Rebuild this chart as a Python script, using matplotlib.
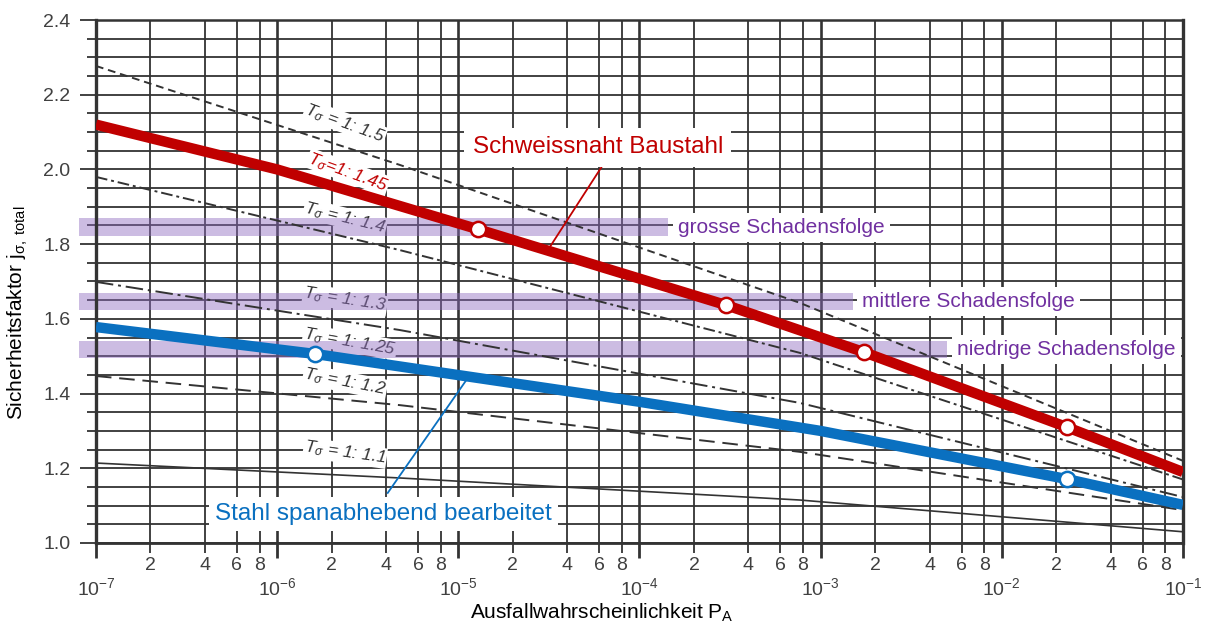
import matplotlib
matplotlib.use("Agg")
import matplotlib.pyplot as plt

plt.rcParams['font.family'] = ['Liberation Sans', 'DejaVu Sans']
plt.rcParams['mathtext.fontset'] = 'custom'
plt.rcParams['mathtext.rm'] = 'Liberation Sans'
plt.rcParams['mathtext.it'] = 'Liberation Sans:italic'
plt.rcParams['mathtext.default'] = 'regular'

# --- data ---
# red curve: Schweissnaht Baustahl (T = 1:1.45)
red_x = [1e-7, 1e-6, 1.28e-5, 3.0e-4, 1.73e-3, 2.29e-2, 1e-1]
red_y = [2.12, 2.00, 1.84, 1.637, 1.511, 1.31, 1.19]
red_pts_x = [1.28e-5, 3.0e-4, 1.73e-3, 2.29e-2]
red_pts_y = [1.84, 1.637, 1.511, 1.31]

# blue curve: Stahl spanabhebend bearbeitet (T = 1:1.25)
blue_x = [1e-7, 1.62e-6, 1e-4, 1e-3, 2.29e-2, 1e-1]
blue_y = [1.578, 1.506, 1.378, 1.30, 1.171, 1.102]
blue_pts_x = [1.62e-6, 2.29e-2]
blue_pts_y = [1.506, 1.171]

# thin black curves for the scatter ranges
t_x = [1e-7, 4.76e-6, 7.67e-4, 1e-1]
t15 = [2.277, 2.012, 1.643, 1.22]
t14 = [1.98, 1.784, 1.509, 1.17]
t13 = [1.699, 1.570, 1.375, 1.123]
t12 = [1.447, 1.369, 1.244, 1.088]
t11 = [1.214, 1.174, 1.115, 1.03]

# purple bands (consequence of failure)
band_names = ['grosse Schadensfolge', 'mittlere Schadensfolge', 'niedrige Schadensfolge']
band_lo = [1.821, 1.624, 1.495]
band_hi = [1.869, 1.669, 1.541]
band_end = [1.44e-4, 1.51e-3, 4.98e-3]
band_text_x = [1.63e-4, 1.69e-3, 5.65e-3]

decades = [1e-7, 1e-6, 1e-5, 1e-4, 1e-3, 1e-2, 1e-1]
decade_labels = [r'10$^{-7}$', r'10$^{-6}$', r'10$^{-5}$', r'10$^{-4}$',
                 r'10$^{-3}$', r'10$^{-2}$', r'10$^{-1}$']
minor_x = [m * d for d in decades[:-1] for m in (2, 4, 6, 8)]
minor_labels = ['2', '4', '6', '8'] * 6

gc = '#333333'
red = '#c00000'
blue = '#0a70c0'
purple = '#7030a0'

fig = plt.figure(figsize=(12.1, 6.31), dpi=100)
ax = fig.add_axes([0.0793, 0.1395, 0.8983, 0.8288])
ax.set_xscale('log')
ax.set_xlim(1e-7, 1e-1)
ax.set_ylim(1.0, 2.4)

ax.set_xticks(decades, labels=decade_labels)
ax.set_xticks(minor_x, labels=minor_labels, minor=True)
ax.set_yticks([1.0, 1.2, 1.4, 1.6, 1.8, 2.0, 2.2, 2.4])
ax.set_yticks([1.0 + 0.05 * i for i in range(29)], minor=True)

ax.xaxis.grid(True, which='major', color=gc, lw=1.9)
ax.xaxis.grid(True, which='minor', color=gc, lw=1.3)
ax.yaxis.grid(True, which='both', color=gc, lw=1.3)

ax.tick_params(axis='x', which='major', length=11, width=2.0, color=gc,
               pad=14, labelsize=14, labelcolor='#404040')
ax.tick_params(axis='x', which='minor', length=7, width=1.3, color=gc,
               pad=3, labelsize=14, labelcolor='#404040')
ax.tick_params(axis='y', which='major', length=11.5, width=1.3, color=gc,
               pad=7, labelsize=14, labelcolor='#404040')
ax.tick_params(axis='y', which='minor', length=6.5, width=1.3, color=gc)
ax.yaxis.set_major_formatter(matplotlib.ticker.FormatStrFormatter('%.1f'))

for side, w in (('left', 2.4), ('right', 2.4), ('top', 1.8), ('bottom', 2.0)):
    ax.spines[side].set_color(gc)
    ax.spines[side].set_linewidth(w)

# bands
for lo, hi, end, name, tx in zip(band_lo, band_hi, band_end, band_names, band_text_x):
    ax.fill_between([8.06e-8, end], [lo, lo], [hi, hi], color='#8e6bbf',
                    alpha=0.45, lw=0, zorder=2.2, clip_on=False)
    ax.text(tx, (lo + hi) / 2, name, color=purple, fontsize=15, ha='left',
            va='center', zorder=2.4,
            bbox=dict(boxstyle='square,pad=0.25', fc='white', ec='none'))

# thin curves
ax.plot(t_x, t15, color=gc, lw=1.4, ls=(0, (4, 2.5)), zorder=3)
ax.plot(t_x, t14, color=gc, lw=1.4, ls=(0, (6, 2, 1.5, 2)), zorder=3)
ax.plot(t_x, t13, color=gc, lw=1.4, ls=(0, (9, 2.5, 1.5, 2.5)), zorder=3)
ax.plot(t_x, t12, color=gc, lw=1.4, ls=(0, (8, 4)), zorder=3)
ax.plot(t_x, t11, color=gc, lw=1.2, zorder=3)

# thin curve labels
t_labels = [(2.37e-6, 2.124, r'$\mathit{T}_{\sigma}$ = 1: 1.5', -20, gc),
            (2.46e-6, 1.993, r'$\mathit{T}_{\sigma}$=1: 1.45', -20, red),
            (2.37e-6, 1.870, r'$\mathit{T}_{\sigma}$ = 1: 1.4', -14, gc),
            (2.37e-6, 1.651, r'$\mathit{T}_{\sigma}$ = 1: 1.3', -9, gc),
            (2.52e-6, 1.538, r'$\mathit{T}_{\sigma}$ = 1: 1.25', -10, gc),
            (2.37e-6, 1.431, r'$\mathit{T}_{\sigma}$ = 1: 1.2', -11, gc),
            (2.37e-6, 1.241, r'$\mathit{T}_{\sigma}$ = 1: 1.1', -8, gc)]
for x, y, s, rot, c in t_labels:
    ax.text(x, y, s, fontsize=12.5, style='italic', color=c, rotation=rot,
            ha='center', va='center', rotation_mode='anchor', zorder=2.1,
            bbox=dict(boxstyle='square,pad=0.05', fc='white', ec='none'))

# main curves
ax.plot(red_x, red_y, color=red, lw=7.5, solid_capstyle='butt', zorder=4)
ax.plot(red_pts_x, red_pts_y, 'o', ms=11, mfc='white', mec=red, mew=1.8, zorder=5)
ax.plot(blue_x, blue_y, color=blue, lw=7.5, solid_capstyle='butt', zorder=4)
ax.plot(blue_pts_x, blue_pts_y, 'o', ms=11, mfc='white', mec=blue, mew=1.8, zorder=5)

# callouts
ax.text(5.89e-5, 2.060, 'Schweissnaht Baustahl', color=red, fontsize=17.5,
        ha='center', va='center', zorder=6,
        bbox=dict(boxstyle='square,pad=0.35', fc='white', ec='none'))
ax.plot([6.44e-5, 3.2e-5], [2.020, 1.792], color=red, lw=1.3, zorder=4.5)
ax.text(3.88e-6, 1.078, 'Stahl spanabhebend bearbeitet', color=blue, fontsize=17.5,
        ha='center', va='center', zorder=6,
        bbox=dict(boxstyle='square,pad=0.25', fc='white', ec='none'))
ax.plot([4.08e-6, 1.13e-5], [1.134, 1.442], color=blue, lw=1.3, zorder=4.5)

ax.set_xlabel(r'Ausfallwahrscheinlichkeit P$_A$', fontsize=15)
ax.xaxis.set_label_coords(0.4655, -0.113)
ax.set_ylabel(r'Sicherheitsfaktor j$_{\sigma,\ total}$', fontsize=15)
ax.yaxis.set_label_coords(-0.061, 0.44)

fig.savefig('out.png', dpi=100)
